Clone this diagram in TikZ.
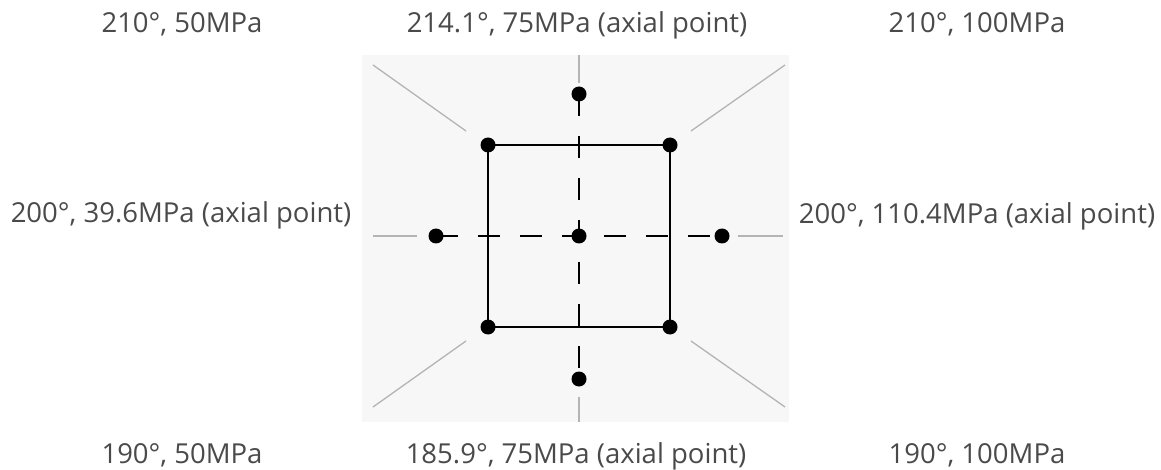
\documentclass[tikz,border=0pt]{standalone}
\usepackage{fontspec}
\setmainfont{Open Sans}
\usetikzlibrary{backgrounds}
\definecolor{txt}{HTML}{4A4A4A}
\definecolor{bgpanel}{HTML}{F7F7F7}
\definecolor{guide}{HTML}{B4B4B4}
\begin{document}
\begin{tikzpicture}[x=1pt,y=-1pt,
  lbl/.style={anchor=base,text=txt,font=\fontsize{27.5}{33}\selectfont,inner sep=0pt},
  dot/.style={circle,fill=black,inner sep=0pt,minimum size=15pt},
  edgeline/.style={line width=1.8pt},
  axisline/.style={line width=1.8pt,dash pattern=on 22pt off 20pt},
  guideline/.style={guide,line width=1.3pt}]
\useasboundingbox (0,0) rectangle (1161,470);
% labels
\node[lbl] (l1) at (182,33) {210°, 50MPa};
\node[lbl] (l2) at (577,33) {214.1°, 75MPa (axial point)};
\node[lbl] (l3) at (977,33) {210°, 100MPa};
\node[lbl] (l4) at (181,223) {200°, 39.6MPa (axial point)};
\node[lbl] (l5) at (977,224) {200°, 110.4MPa (axial point)};
\node[lbl] (l6) at (182,463) {190°, 50MPa};
\node[lbl] (l7) at (576,463) {185.9°, 75MPa (axial point)};
\node[lbl] (l8) at (977,463) {190°, 100MPa};
% points
\node[dot] (c)  at (579,236) {};
\node[dot] (tl) at (488,145) {};
\node[dot] (tr) at (670,145) {};
\node[dot] (br) at (670,327) {};
\node[dot] (bl) at (488,327) {};
\node[dot] (ta) at (579,94) {};
\node[dot] (ba) at (579,379) {};
\node[dot] (la) at (436,236) {};
\node[dot] (ra) at (722,236) {};
% guide line ends
\coordinate (gt1) at (579,55);  \coordinate (gt2) at (579,83);
\coordinate (gb1) at (579,397); \coordinate (gb2) at (579,422);
\coordinate (gl1) at (373,236); \coordinate (gl2) at (417,236);
\coordinate (gr1) at (738,236); \coordinate (gr2) at (783,236);
\coordinate (d1a) at (373,65);  \coordinate (d1b) at (466,131);
\coordinate (d2a) at (785,65);  \coordinate (d2b) at (691,131);
\coordinate (d3a) at (373,407); \coordinate (d3b) at (466,341);
\coordinate (d4a) at (785,407); \coordinate (d4b) at (691,341);
\begin{pgfonlayer}{background}
  \fill[bgpanel] (362,55) rectangle (789,422);
  \draw[guideline] (gt1) -- (gt2);
  \draw[guideline] (gb1) -- (gb2);
  \draw[guideline] (gl1) -- (gl2);
  \draw[guideline] (gr1) -- (gr2);
  \draw[guideline] (d1a) -- (d1b);
  \draw[guideline] (d2a) -- (d2b);
  \draw[guideline] (d3a) -- (d3b);
  \draw[guideline] (d4a) -- (d4b);
  \draw[edgeline] (tl.center) -- (tr.center) -- (br.center) -- (bl.center) -- cycle;
  \draw[axisline] (ta.center) -- (ba.center);
  \draw[axisline] (la.center) -- (ra.center);
\end{pgfonlayer}
\end{tikzpicture}
\end{document}
